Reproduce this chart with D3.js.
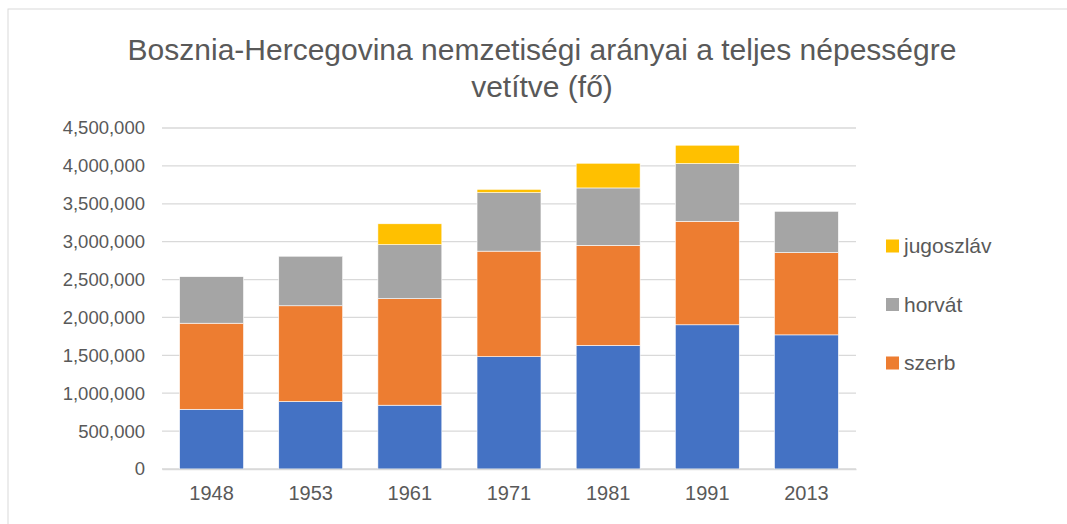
<!DOCTYPE html>
<html>
<head>
<meta charset="utf-8">
<title>Bosznia-Hercegovina nemzetiségi arányai</title>
<script src="https://d3js.org/d3.v7.min.js"></script>
<style>
  body { margin: 0; background: #fff; }
  text { font-family: "Liberation Sans", Arial, sans-serif; fill: #595959; }
  .title { font-size: 30px; }
  .axis text { font-size: 18.5px; }
  .xaxis text { font-size: 20px; }
  .legend text { font-size: 21px; }
</style>
</head>
<body>
<script>
// census years
var years = ["1948", "1953", "1961", "1971", "1981", "1991", "2013"];
// series, bottom to top
var bosnyak  = [788000, 890000, 842000, 1482000, 1630000, 1903000, 1770000];
var szerb    = [1136000, 1264000, 1406000, 1393000, 1321000, 1366000, 1086000];
var horvat   = [614000, 654000, 712000, 772000, 758000, 761000, 545000];
var jugoszlav = [0, 0, 276000, 44000, 326000, 243000, 0];
var yTicks = [0, 500000, 1000000, 1500000, 2000000, 2500000, 3000000, 3500000, 4000000, 4500000];

var seriesNames = ["bosnyák", "szerb", "horvát", "jugoszláv"];
var seriesColors = ["#4472C4", "#ED7D31", "#A5A5A5", "#FFC000"];
var legendNames = ["jugoszláv", "horvát", "szerb"];

var W = 1067, H = 524;
var margin = {top: 128, left: 162, right: 211, bottom: 55};

var svg = d3.select("body").append("svg")
    .attr("width", W)
    .attr("height", H);

// chart border
svg.append("rect")
    .attr("x", 8).attr("y", 9)
    .attr("width", W + 20).attr("height", H + 20)
    .attr("fill", "none")
    .attr("stroke", "#d9d9d9")
    .attr("stroke-width", 1);

var table = years.map(function(y, i) {
    return {year: y, "bosnyák": bosnyak[i], "szerb": szerb[i], "horvát": horvat[i], "jugoszláv": jugoszlav[i]};
});

var stack = d3.stack().keys(seriesNames)(table);

var x = d3.scaleBand()
    .domain(years)
    .range([margin.left, W - margin.right])
    .paddingInner(0.355)
    .paddingOuter(0.1775);

var y = d3.scaleLinear()
    .domain([0, 4500000])
    .range([H - margin.bottom, margin.top]);

// gridlines
svg.append("g")
    .selectAll("line")
    .data(yTicks)
    .enter().append("line")
    .attr("x1", margin.left)
    .attr("x2", W - margin.right)
    .attr("y1", function(d) { return y(d); })
    .attr("y2", function(d) { return y(d); })
    .attr("stroke", "#d9d9d9")
    .attr("stroke-width", 1.3);

// y axis labels
var yAxis = d3.axisLeft(y)
    .tickValues(yTicks)
    .tickFormat(d3.format(","))
    .tickSize(0)
    .tickPadding(17);

svg.append("g")
    .attr("class", "axis")
    .attr("transform", "translate(" + margin.left + ",0)")
    .call(yAxis)
    .call(function(g) { g.select(".domain").remove(); });

// bars
svg.append("g")
    .selectAll("g")
    .data(stack)
    .enter().append("g")
    .attr("fill", function(d, i) { return seriesColors[i]; })
    .selectAll("rect")
    .data(function(d) { return d.filter(function(p) { return p[1] - p[0] > 0; }); })
    .enter().append("rect")
    .attr("x", function(d) { return x(d.data.year); })
    .attr("width", x.bandwidth())
    .attr("y", function(d) { return y(d[1]); })
    .attr("height", function(d) { return y(d[0]) - y(d[1]); })
    .attr("stroke", "#fff")
    .attr("stroke-width", 0.6);

// x axis
var xAxis = d3.axisBottom(x).tickSize(0).tickPadding(17);
svg.append("g")
    .attr("class", "axis xaxis")
    .attr("transform", "translate(0," + (H - margin.bottom) + ")")
    .call(xAxis)
    .call(function(g) {
        g.select(".domain").attr("stroke", "#d9d9d9").attr("stroke-width", 1.3);
    });

// title
var title = svg.append("text")
    .attr("class", "title")
    .attr("text-anchor", "middle");
title.append("tspan").attr("x", 542).attr("y", 60)
    .text("Bosznia-Hercegovina nemzetiségi arányai a teljes népességre");
title.append("tspan").attr("x", 542).attr("y", 97)
    .text("vetítve (fő)");

// legend
var legend = svg.append("g")
    .attr("class", "legend")
    .selectAll("g")
    .data(legendNames)
    .enter().append("g")
    .attr("transform", function(d, i) { return "translate(886," + (246 + i * 58.5) + ")"; });

legend.append("rect")
    .attr("y", -6.5)
    .attr("width", 13).attr("height", 13)
    .attr("fill", function(d) { return seriesColors[seriesNames.indexOf(d)]; });

legend.append("text")
    .attr("x", 18)
    .attr("dy", "0.35em")
    .text(function(d) { return d; });
</script>
</body>
</html>
